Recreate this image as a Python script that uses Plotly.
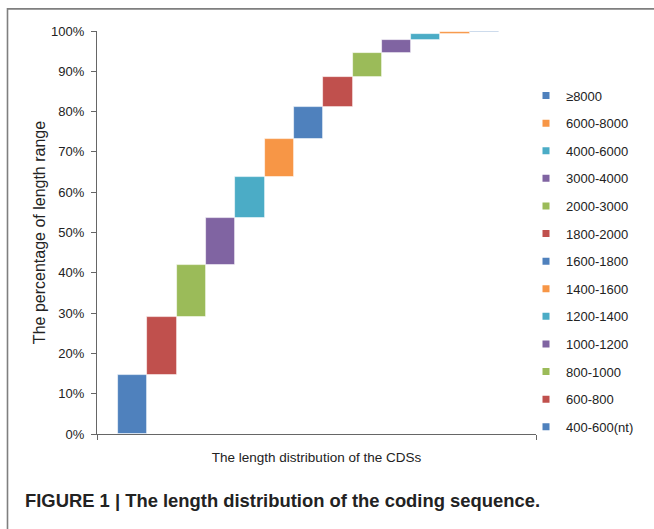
import plotly.graph_objects as go

# CDS length classes (nt) and the share of CDSs falling in each class (%)
categories = ["400-600(nt)", "600-800", "800-1000", "1000-1200", "1200-1400",
              "1400-1600", "1600-1800", "1800-2000", "2000-3000", "3000-4000",
              "4000-6000", "6000-8000", "\u22658000"]
percentages = [14.6, 14.5, 12.9, 11.6, 10.2, 9.3, 8.1, 7.3, 6.1, 3.2, 1.5, 0.5, 0.2]
colors = ["#4F81BD", "#C0504D", "#9BBB59", "#8064A2", "#4BACC6", "#F79646",
          "#4F81BD", "#C0504D", "#9BBB59", "#8064A2", "#4BACC6", "#F79646",
          "#4F81BD"]
y_ticks = [0, 10, 20, 30, 40, 50, 60, 70, 80, 90, 100]
y_tick_labels = [f"{v}%" for v in y_ticks]

W, H = 654, 529
L, R, T, B = 97, 536, 31.4, 434.5          # plot area edges in pixels
PW, PH = R - L, B - T


def px_x(px):
    return (px - L) / PW


def px_y(py):
    return (B - py) / PH


fig = go.Figure()

# floating columns: each class starts where the previous one ended
bases = []
running = 0.0
for p in percentages:
    bases.append(running)
    running += p

for i, (name, p, b, c) in enumerate(zip(categories, percentages, bases, colors)):
    fig.add_trace(go.Bar(
        x=[i], y=[p], base=[b], width=1, name=name,
        marker=dict(color=c, line=dict(color="rgba(255,255,255,0.7)", width=0.8)),
        showlegend=False, hoverinfo="name+y",
    ))

# legend entries, largest class first, with small square keys
for idx in reversed(range(len(categories))):
    fig.add_trace(go.Scatter(
        x=[None], y=[None], mode="markers", name=categories[idx],
        legendgroup=categories[idx],
        marker=dict(symbol="square", size=7, color=colors[idx]),
        showlegend=True,
    ))

n = len(categories)
x_lo, x_hi = -1.22, n - 1 + 1.76

fig.update_layout(
    width=W, height=H,
    margin=dict(l=L, r=W - R, t=T, b=H - B, pad=0),
    paper_bgcolor="white", plot_bgcolor="white",
    font=dict(family="Liberation Sans, Arial, sans-serif", size=13, color="#222222"),
    bargap=0,
    showlegend=True,
    legend=dict(
        x=px_x(526), y=px_y(81), xanchor="left", yanchor="top",
        traceorder="grouped", tracegroupgap=7.7,
        font=dict(size=13, color="#222222"),
        bgcolor="rgba(0,0,0,0)", itemclick=False,
    ),
    xaxis=dict(
        range=[x_lo, x_hi],
        showgrid=False, zeroline=False,
        showline=True, linecolor="#666666", linewidth=1.2,
        tickvals=[x_lo, x_hi], ticktext=["", ""],
        ticks="outside", ticklen=5, tickcolor="#666666", tickwidth=1.2,
        title=dict(text="The length distribution of the CDSs",
                   font=dict(family="Liberation Sans Narrow, Arial Narrow, Liberation Sans, sans-serif",
                             size=13.5, color="#222222"),
                   standoff=10),
    ),
    yaxis=dict(
        range=[0, 100],
        tickmode="array", tickvals=y_ticks, ticktext=y_tick_labels,
        showgrid=False, zeroline=False,
        showline=True, linecolor="#666666", linewidth=1.2,
        ticks="outside", ticklen=5, tickcolor="#666666", tickwidth=1.2,
        ticklabelstandoff=4,
        tickfont=dict(size=13, color="#222222"),
        title=dict(text="The percentage of length range",
                   font=dict(size=16, color="#222222"), standoff=1),
    ),
    shapes=[dict(
        type="rect", xref="paper", yref="paper",
        x0=px_x(7.5), x1=px_x(720), y0=px_y(650), y1=px_y(9.3),
        line=dict(color="#7f7f7f", width=1.6), fillcolor="rgba(0,0,0,0)", layer="below",
    )],
    annotations=[dict(
        text="<b>FIGURE 1 | The length distribution of the coding sequence.</b>",
        xref="paper", yref="paper", x=px_x(23), y=px_y(501),
        xanchor="left", yanchor="middle", showarrow=False,
        font=dict(family="Liberation Sans, Arial, sans-serif", size=18.4, color="#222222"),
    )],
)

fig.write_html("out.html")
